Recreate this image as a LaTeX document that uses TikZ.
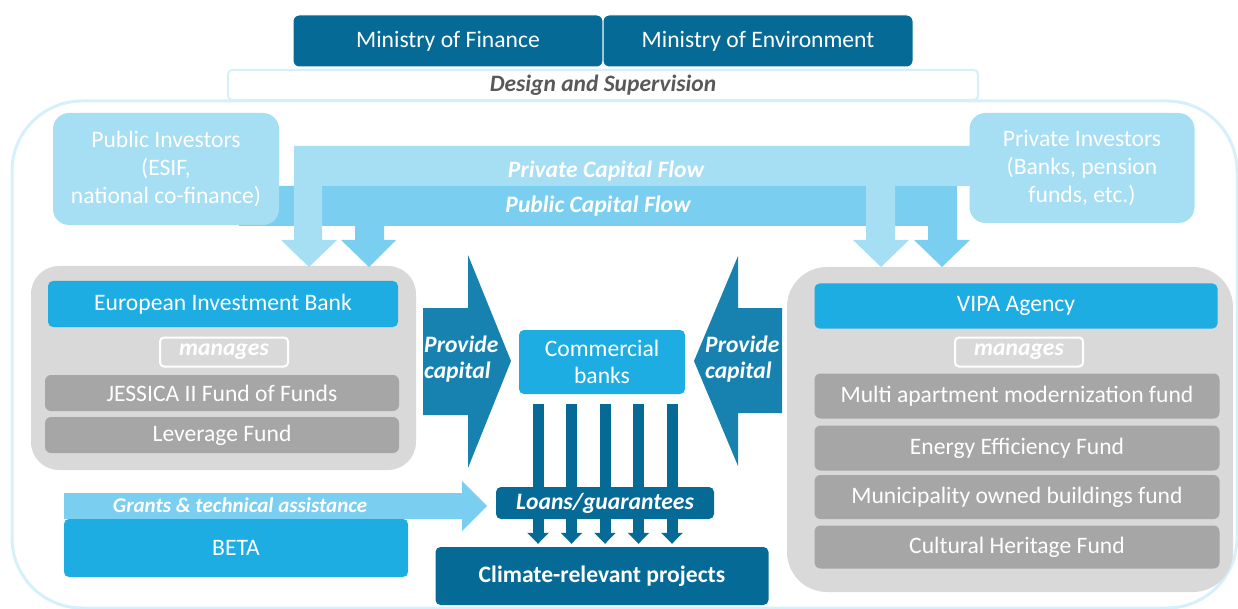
\documentclass[tikz,border=0pt]{standalone}
\usepackage{fontspec}
\setmainfont{Carlito}
\usetikzlibrary{calc,arrows.meta}

\definecolor{darkblue}{RGB}{6,106,150}
\definecolor{arrowblue}{RGB}{23,130,176}
\definecolor{midblue}{RGB}{30,173,227}
\definecolor{paleblue}{RGB}{166,222,244}
\definecolor{flowblue}{RGB}{122,207,240}
\definecolor{frameblue}{RGB}{214,240,251}
\definecolor{boxgrey}{RGB}{217,217,217}
\definecolor{fundgrey}{RGB}{166,166,166}
\definecolor{textgrey}{RGB}{89,89,89}

\begin{document}
\begin{tikzpicture}[x=1pt,y=-1pt,
                ministry/.style={fill=darkblue,draw=white,line width=1pt,rounded corners=6pt,text=white,minimum width=310pt,minimum height=52pt,inner sep=0pt,font=\fontsize{23.6}{27}\selectfont},
                investor/.style={fill=paleblue,rounded corners=16pt,text=white,align=center,inner sep=0pt,font=\fontsize{23.6}{28}\selectfont},
                agency/.style={fill=midblue,rounded corners=5pt,text=white,inner sep=0pt,font=\fontsize{23.6}{27}\selectfont},
                fund/.style={fill=fundgrey,rounded corners=6pt,text=white,inner sep=0pt,font=\fontsize{23.6}{27}\selectfont},
                manages/.style={draw=white,line width=2pt,rounded corners=4pt,text=white,minimum width=128pt,minimum height=29pt,inner sep=0pt,font=\fontsize{23.6}{27}\selectfont\bfseries\itshape},
                dark/.style={fill=darkblue,rounded corners=5pt,text=white,inner sep=0pt,font=\fontsize{23.6}{27}\selectfont\bfseries},
                flowtext/.style={text=white,inner sep=0pt,font=\fontsize{23.6}{26}\selectfont\bfseries\itshape},
                loan/.style={darkblue,line width=11pt,-{Triangle[width=21pt,length=11pt]}}
            ]
                \useasboundingbox (0,0) rectangle (1238,609);
                \draw[frameblue,line width=3pt,rounded corners=70pt] (12,101) rectangle (1237,608);

                \node[fill=white,draw=frameblue,line width=2pt,rounded corners=4pt,minimum width=750pt,minimum height=30pt,inner sep=0pt,text=textgrey,font=\fontsize{23.5}{26}\selectfont\bfseries\itshape] (design) at (603,85) {Design and Supervision};
                \node[ministry] (finance) at (448,41) {Ministry of Finance};
                \node[ministry] (environment) at (758,41) {Ministry of Environment};

                \fill[boxgrey,rounded corners=28pt] (31,266) rectangle (416,470);
                \fill[boxgrey,rounded corners=40pt] (787,267) rectangle (1233,592);

                \fill[flowblue] (239,186) -- (957,186) -- (957,240) -- (970,240) -- (942,267) -- (914,240) -- (928,240) -- (928,226)
                    -- (384,226) -- (384,240) -- (396,240) -- (369,267) -- (341,240) -- (355,240) -- (355,226) -- (239,226) -- cycle;
                \fill[paleblue] (294,146) -- (990,146) -- (990,186) -- (895,186) -- (895,240) -- (909,240) -- (881,267) -- (853,240) -- (866,240)
                    -- (866,186) -- (322,186) -- (322,240) -- (337,240) -- (309,267) -- (281,240) -- (294,240) -- cycle;
                \node[flowtext] (private) at (606,171) {Private Capital Flow};
                \node[flowtext] (public) at (598,206) {Public Capital Flow};

                \node[investor,minimum width=226pt,minimum height=112pt] (pubinv) at (166,169) {Public Investors\\(ESIF,\\national co-finance)};
                \node[investor,minimum width=225pt,minimum height=110pt] (privinv) at (1082,168) {Private Investors\\(Banks, pension\\funds, etc.)};

                \node[agency,minimum width=350pt,minimum height=46pt] (eib) at (223,304) {European Investment Bank};
                \node[manages] (eibman) at (224,352) {manages};
                \node[fund,minimum width=354pt,minimum height=36pt] (jessica) at (222,393) {JESSICA II Fund of Funds};
                \node[fund,minimum width=354pt,minimum height=36pt] (leverage) at (222,435) {Leverage Fund};

                \node[agency,minimum width=403pt,minimum height=45pt] (vipa) at (1016,306) {VIPA Agency};
                \node[manages] (vipaman) at (1019,352) {manages};
                \node[fund,minimum width=405pt,minimum height=45pt] (multi) at (1017,396) {Multi apartment modernization fund};
                \node[fund,minimum width=405pt,minimum height=45pt] (energy) at (1017,448) {Energy Efficiency Fund};
                \node[fund,minimum width=405pt,minimum height=44pt] (municipal) at (1017,497) {Municipality owned buildings fund};
                \node[fund,minimum width=405pt,minimum height=43pt] (heritage) at (1017,547) {Cultural Heritage Fund};

                \fill[arrowblue] (423,308) -- (468,308) -- (468,255) -- (511,361) -- (468,468) -- (468,415) -- (423,415) -- cycle;
                \fill[arrowblue] (782,308) -- (738,308) -- (738,256) -- (694,361) -- (738,466) -- (738,413) -- (782,413) -- cycle;
                \node[flowtext,anchor=west,align=left] (leftcap) at (424,359) {Provide\\capital};
                \node[flowtext,anchor=west,align=left] (rightcap) at (705,359) {Provide\\capital};

                \node[agency,minimum width=166pt,minimum height=64pt,align=center] (banks) at (602,362) {Commercial\\banks};
                \node[dark,minimum width=333pt,minimum height=58pt] (climate) at (602,576) {Climate-relevant projects};

                \foreach \dx in {-67,-33.5,0,33.5,67}
                    {
                    \draw[loan] ($(banks.south)+(\dx+3,10)$) -- ($(climate.north)+(\dx+3,-3)$);
                }
                \node[dark,font=\fontsize{23.6}{27}\selectfont\bfseries\itshape,minimum width=218pt,minimum height=32pt] (loans) at (605,503) {Loans/guarantees};

                \fill[flowblue] (64,493) -- (462,493) -- (462,481) -- (487,506) -- (462,531) -- (462,519) -- (64,519) -- cycle;
                \node[flowtext,font=\fontsize{21}{24}\selectfont\bfseries\itshape] (grants) at (240,505) {Grants \& technical assistance};
                \node[agency,minimum width=344pt,minimum height=58pt] (beta) at (236,548) {BETA};

            \end{tikzpicture}
\end{document}
